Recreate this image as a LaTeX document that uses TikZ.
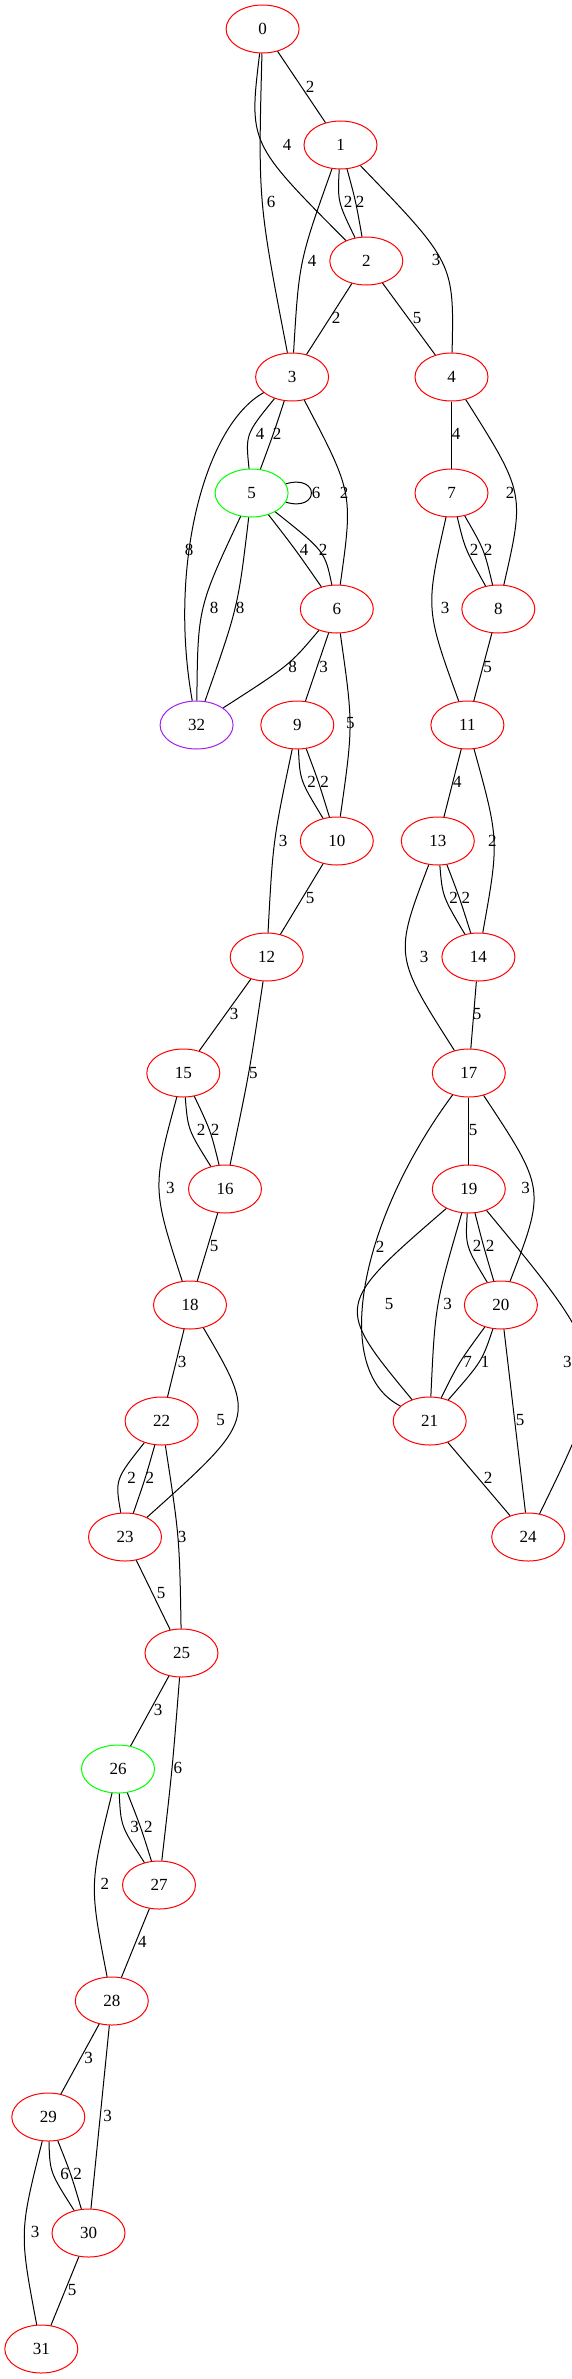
\documentclass[tikz,border=0pt]{standalone}
\usepackage{fontspec}
\setmainfont{Liberation Serif}
\usetikzlibrary{shapes.geometric,calc}
\definecolor{gvgreen}{RGB}{0,255,0}
\definecolor{gvpurple}{RGB}{160,32,240}
\tikzset{
  vtx/.style={ellipse, draw=red, line width=1pt, minimum width=73pt, minimum height=48pt, inner sep=0pt, font=\fontsize{17}{20}\selectfont},
  grn/.style={draw=gvgreen},
  pur/.style={draw=gvpurple},
  edge/.style={line width=1pt, black},
  lbl/.style={inner sep=0pt, font=\fontsize{17}{20}\selectfont}
}
\newcommand\SE[4]{\draw[edge] (#1) -- (#2) node[lbl,at={(#3)}] {#4};}
\newcommand\CE[5]{%
  \coordinate (cA) at ($2*(#3)-0.5*(#1)-0.5*(#2)$);
  \path (cA) -- (#1) coordinate[pos=1] (eA);
  \path (cA) -- (#2) coordinate[pos=1] (eB);
  \coordinate (cB) at ($2*(#3)-0.5*(eA)-0.5*(eB)$);
  \path (cB) -- (#1) coordinate[pos=1] (fA);
  \path (cB) -- (#2) coordinate[pos=1] (fB);
  \coordinate (cC) at ($2*(#3)-0.5*(fA)-0.5*(fB)$);
  \draw[edge] (#1) .. controls (cC) .. (#2) node[lbl,at={(#4)}] {#5};}
\begin{document}
\begin{tikzpicture}[x=1pt,y=-1pt]
\useasboundingbox (0,0) rectangle (572,2379);
\node[vtx] (n0) at (262.6,29) {0};
\node[vtx] (n1) at (340.5,145) {1};
\node[vtx] (n2) at (366.3,261) {2};
\node[vtx] (n3) at (292.1,377) {3};
\node[vtx] (n4) at (451.5,377) {4};
\node[vtx,grn] (n5) at (251.6,493) {5};
\node[vtx] (n7) at (451.5,493) {7};
\node[vtx] (n6) at (336.8,609) {6};
\node[vtx] (n8) at (498.3,609) {8};
\node[vtx,pur] (n32) at (196.6,725) {32};
\node[vtx] (n9) at (297.3,725) {9};
\node[vtx] (n11) at (467.4,725) {11};
\node[vtx] (n10) at (336.8,841) {10};
\node[vtx] (n13) at (437.8,841) {13};
\node[vtx] (n12) at (266.7,957) {12};
\node[vtx] (n14) at (478.4,957) {14};
\node[vtx] (n15) at (183.3,1073) {15};
\node[vtx] (n17) at (468.8,1073) {17};
\node[vtx] (n16) at (225,1189) {16};
\node[vtx] (n19) at (468.8,1189) {19};
\node[vtx] (n18) at (190,1305) {18};
\node[vtx] (n20) at (500.9,1305) {20};
\node[vtx] (n22) at (161.6,1421) {22};
\node[vtx] (n21) at (429.7,1421) {21};
\node[vtx] (n23) at (125,1537) {23};
\node[vtx] (n24) at (528.2,1537) {24};
\node[vtx] (n25) at (181.5,1653) {25};
\node[vtx,grn] (n26) at (118,1769) {26};
\node[vtx] (n27) at (159,1885) {27};
\node[vtx] (n28) at (111.8,2001) {28};
\node[vtx] (n29) at (48.3,2117) {29};
\node[vtx] (n30) at (88.5,2233) {30};
\node[vtx] (n31) at (41.3,2349) {31};
\SE{n0}{n1}{310,87}{2}
\CE{n0}{n2}{276,145}{287,145}{4}
\CE{n0}{n3}{266.4,202}{271,202}{6}
\CE{n1}{n2}{343,202.5}{348,202}{2}
\CE{n1}{n2}{355,202}{360,202}{2}
\CE{n1}{n3}{306,261}{312,261}{4}
\CE{n1}{n4}{430,261}{436,260}{3}
\SE{n2}{n3}{336,318}{2}
\SE{n2}{n4}{417,318}{5}
\CE{n3}{n5}{254.5,434}{260,434}{4}
\CE{n3}{n5}{273,434}{277,434}{2}
\CE{n3}{n6}{337.5,492.7}{344,492.7}{2}
\draw[edge] (n3) .. controls (205,425) and (168,565) .. (n32) node[lbl,at={(189,550)}] {8};
\SE{n4}{n7}{456,434}{4}
\CE{n4}{n8}{504.6,492.7}{510,492.7}{2}
\draw[edge] (n5.15) .. controls +(34,-10) and +(34,10) .. (n5.-15) node[lbl,at={(316,492.7)}] {6};
\CE{n5}{n6}{295,550}{304,550}{4}
\CE{n5}{n6}{313.5,550}{323,550}{2}
\CE{n5}{n32}{208.4,608}{214,608}{8}
\CE{n5}{n32}{232.4,608}{240,608}{8}
\CE{n6}{n32}{280,667}{292.5,667}{8}
\SE{n6}{n9}{323.5,667}{3}
\CE{n6}{n10}{346.7,725}{350.4,723}{5}
\CE{n7}{n8}{468.5,550}{474,550}{2}
\CE{n7}{n8}{481,550}{488,550}{2}
\CE{n7}{n11}{439,609}{445,608}{3}
\SE{n8}{n11}{487.6,667}{5}
\CE{n9}{n10}{306,782}{311.7,782}{2}
\CE{n9}{n10}{318,782}{324.6,782}{2}
\CE{n9}{n12}{276.6,840.7}{283,840.7}{3}
\SE{n11}{n13}{457.4,782}{4}
\CE{n11}{n14}{488.7,840.7}{492.4,840.7}{2}
\SE{n10}{n12}{310,898}{5}
\CE{n13}{n14}{448,898}{453.7,898}{2}
\CE{n13}{n14}{459,898}{465.9,898}{2}
\CE{n13}{n17}{418,956.7}{424.2,956.7}{3}
\SE{n14}{n17}{477,1014}{5}
\SE{n12}{n15}{234,1014}{3}
\CE{n12}{n16}{248,1072.7}{253.4,1072.7}{5}
\CE{n15}{n16}{193.6,1130.7}{201,1130}{2}
\CE{n15}{n16}{208.4,1130.7}{215,1130}{2}
\CE{n15}{n18}{166,1188.7}{170.4,1187.7}{3}
\SE{n17}{n19}{473,1130}{5}
\CE{n17}{n20}{521,1188.7}{525.6,1187.7}{3}
\draw[edge] (n17) .. controls (360,1220) and (330,1370) .. (n21) node[lbl,at={(380,1246.7)}] {2};
\SE{n16}{n18}{214,1246}{5}
\CE{n19}{n20}{472,1246.7}{477,1246}{2}
\CE{n19}{n20}{484,1246.7}{490,1246}{2}
\CE{n19}{n21}{381.8,1304.7}{389,1304}{5}
\CE{n19}{n21}{440.8,1304.7}{447.5,1304}{3}
\CE{n19}{n24}{563,1362.7}{567.3,1362}{3}
\CE{n20}{n21}{461,1362.7}{467.7,1362}{7}
\CE{n20}{n21}{475.8,1362.7}{485,1362}{1}
\CE{n20}{n24}{515,1420.7}{520,1420}{5}
\SE{n21}{n24}{488,1477.7}{2}
\SE{n18}{n22}{182,1362}{3}
\CE{n18}{n23}{215.8,1420.7}{220.6,1420}{5}
\CE{n22}{n23}{124.7,1478.7}{131.7,1477.7}{2}
\CE{n22}{n23}{144.6,1478.7}{149.8,1477.7}{2}
\CE{n22}{n25}{176.3,1537}{182,1536.7}{3}
\SE{n23}{n25}{161,1593}{5}
\SE{n25}{n26}{158,1710}{3}
\CE{n25}{n27}{171.5,1769}{177.8,1768}{6}
\CE{n26}{n27}{127,1827}{134.6,1826.7}{3}
\CE{n26}{n27}{140,1827}{148.3,1826.7}{2}
\CE{n26}{n28}{99.6,1885}{104.8,1884}{2}
\SE{n27}{n28}{142.4,1942}{4}
\SE{n28}{n29}{88.5,2058}{3}
\SE{n28}{n30}{107.7,2116}{3}
\CE{n29}{n30}{56.4,2174}{64.6,2174}{6}
\CE{n29}{n30}{70,2174}{77.5,2174}{2}
\CE{n29}{n31}{29.5,2232.7}{35,2231.7}{3}
\SE{n30}{n31}{72,2290}{5}
\end{tikzpicture}
\end{document}
